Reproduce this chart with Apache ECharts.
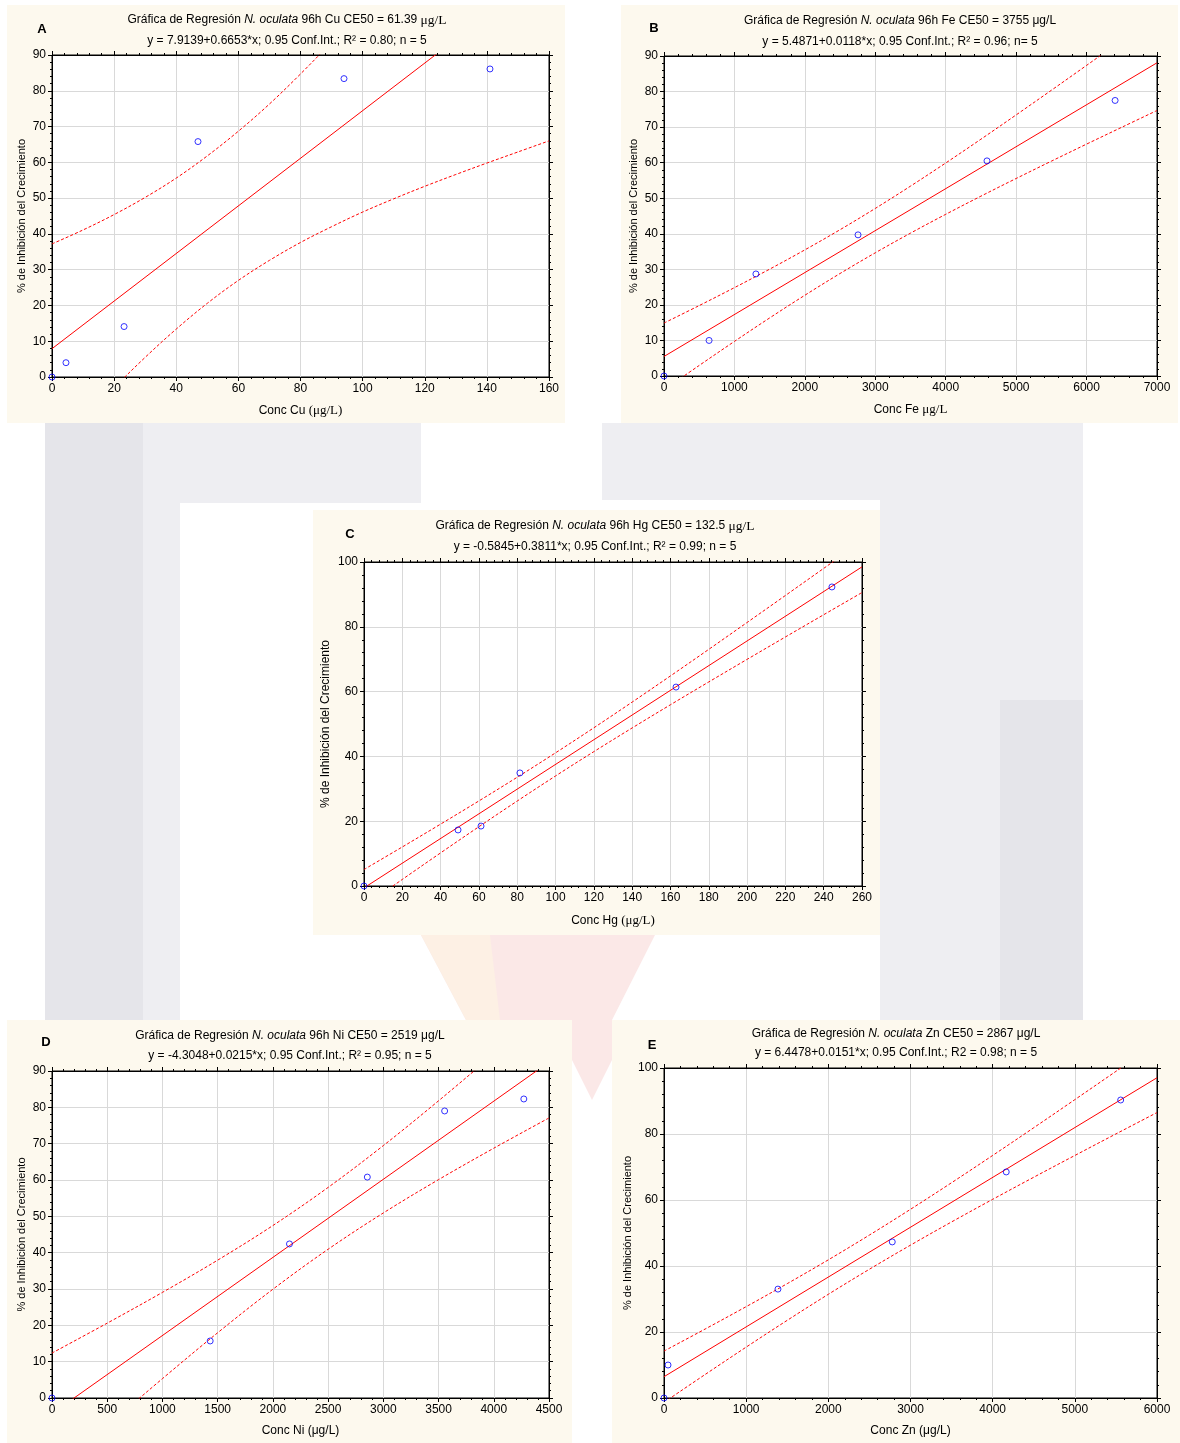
<!DOCTYPE html>
<html>
<head>
<meta charset="utf-8">
<script src="https://cdn.jsdelivr.net/npm/echarts@6/dist/echarts.min.js"></script>
<style>
html,body{margin:0;padding:0;background:#fff;}
#c{width:1180px;height:1443px;}
</style>
</head>
<body>
<div id="c"></div>
<script>
// ---------------- DATA ----------------
// Panel A – Cu
const cuConc  = [0, 4.5, 23.2, 47.0, 94.0, 141.0];
const cuInhib = [0, 4.0, 14.1, 65.8, 83.4, 86.1];
const cuFitX  = [0, 160];
const cuFitY  = [7.91, 114.36];
const cuBandX = [0, 10, 20, 30, 40, 50, 60, 70, 80, 90, 100, 110, 120, 130, 140, 150, 160];
const cuUpper = [37.2, 41.1, 45.4, 50.2, 55.6, 61.8, 68.7, 76.3, 84.7, 93.6, 102.8, 112.4, 122.2, 132.2, 142.3, 152.5, 162.8];
const cuLower = [-21.4, -12.0, -3.0, 5.5, 13.4, 20.6, 27.0, 32.6, 37.6, 42.0, 46.1, 49.8, 53.3, 56.6, 59.8, 62.9, 66.0];
const cuXAxis = [0, 160, 20];
const cuYAxis = [0, 90, 10];

// Panel B – Fe
const feConc  = [0, 640, 1305, 2755, 4586, 6405];
const feInhib = [0, 10.0, 28.7, 39.7, 60.5, 77.5];
const feFitX  = [0, 7000];
const feFitY  = [5.49, 88.09];
const feBandX = [0, 500, 1000, 1500, 2000, 2500, 3000, 3500, 4000, 4500, 5000, 5500, 6000, 6500, 7000];
const feUpper = [14.89, 19.81, 24.85, 30.05, 35.47, 41.15, 47.13, 53.40, 59.91, 66.60, 73.43, 80.36, 87.36, 94.42, 101.51];
const feLower = [-3.91, 2.97, 9.73, 16.33, 22.71, 28.83, 34.65, 40.18, 45.47, 50.58, 55.55, 60.42, 65.22, 69.96, 74.67];
const feXAxis = [0, 7000, 1000];
const feYAxis = [0, 90, 10];

// Panel C – Hg
const hgConc  = [0, 49.1, 61.1, 81.4, 162.9, 244.3];
const hgInhib = [0, 17.3, 18.5, 34.9, 61.4, 92.3];
const hgFitX  = [0, 260];
const hgFitY  = [-0.58, 98.50];
const hgBandX = [0, 20, 40, 60, 80, 100, 120, 140, 160, 180, 200, 220, 240, 260];
const hgUpper = [5.09, 12.05, 19.10, 26.26, 33.57, 41.10, 48.83, 56.76, 64.84, 73.04, 81.33, 89.66, 98.03, 106.43];
const hgLower = [-6.25, 2.03, 10.22, 18.30, 26.23, 33.96, 41.47, 48.78, 55.94, 62.98, 69.95, 76.86, 83.73, 90.57];
const hgXAxis = [0, 260, 20];
const hgYAxis = [0, 100, 20];

// Panel D – Ni
const niConc  = [0, 1432, 2150, 2855, 3555, 4272];
const niInhib = [0, 15.7, 42.4, 60.8, 79.0, 82.3];
const niFitX  = [0, 4500];
const niFitY  = [-4.30, 92.45];
const niBandX = [0, 500, 1000, 1500, 2000, 2500, 3000, 3500, 4000, 4500];
const niUpper = [12.37, 20.60, 29.07, 37.94, 47.47, 57.96, 69.47, 81.80, 94.65, 107.82];
const niLower = [-20.97, -7.70, 5.33, 17.96, 29.93, 40.94, 50.93, 60.10, 68.75, 77.08];
const niXAxis = [0, 4500, 500];
const niYAxis = [0, 90, 10];

// Panel E – Zn
const znConc  = [0, 49, 1387, 2778, 4165, 5558];
const znInhib = [0, 10.0, 33.0, 47.3, 68.5, 90.3];
const znFitX  = [0, 6000];
const znFitY  = [6.45, 97.05];
const znBandX = [0, 500, 1000, 1500, 2000, 2500, 3000, 3500, 4000, 4500, 5000, 5500, 6000];
const znUpper = [14.22, 20.89, 27.68, 34.66, 41.87, 49.38, 57.18, 65.24, 73.50, 81.90, 90.41, 98.98, 107.60];
const znLower = [-1.32, 7.11, 15.42, 23.54, 31.43, 39.02, 46.32, 53.36, 60.20, 66.90, 73.49, 80.02, 86.50];
const znXAxis = [0, 6000, 1000];
const znYAxis = [0, 100, 20];

const yAxisTitle = '% de Inhibición del Crecimiento';

// ---------------- LAYOUT / STYLE ----------------
const SANS = 'Liberation Sans, Arial, Helvetica, sans-serif';
const SERIF = 'Liberation Serif, Times New Roman, serif';

const panels = [
  { letter:'A', bg:[7,5,558,418], grid:{left:52, top:55, width:497, height:322},
    xr:cuXAxis, yr:cuYAxis, conc:cuConc, inhib:cuInhib, fitX:cuFitX, fitY:cuFitY, bandX:cuBandX, up:cuUpper, lo:cuLower,
    title:'{a|Gráfica de Regresión }{i|N. oculata}{a| 96h Cu CE50 = 61.39 }{s|μg/L}',
    sub:'y = 7.9139+0.6653*x; 0.95 Conf.Int.; R² = 0.80; n = 5',
    xName:'{a|Conc Cu }{s|(μg/L)}', tc:287, ty:[20,41], lp:[42,29], yNameSize:11, yGap:25, xGap:27 },
  { letter:'B', bg:[621,5,557,418], grid:{left:664, top:56, width:493, height:320},
    xr:feXAxis, yr:feYAxis, conc:feConc, inhib:feInhib, fitX:feFitX, fitY:feFitY, bandX:feBandX, up:feUpper, lo:feLower,
    title:'{a|Gráfica de Regresión }{i|N. oculata}{a| 96h Fe CE50 = 3755 μg/L}',
    sub:'y = 5.4871+0.0118*x; 0.95 Conf.Int.; R² = 0.96; n= 5',
    xName:'{a|Conc Fe }{s|μg/L}', tc:900, ty:[21,42], lp:[654,28], yNameSize:11, yGap:25, xGap:27 },
  { letter:'C', bg:[313,510,567,425], grid:{left:364, top:562, width:498, height:324},
    xr:hgXAxis, yr:hgYAxis, conc:hgConc, inhib:hgInhib, fitX:hgFitX, fitY:hgFitY, bandX:hgBandX, up:hgUpper, lo:hgLower,
    title:'{a|Gráfica de Regresión }{i|N. oculata}{a| 96h Hg CE50 = 132.5 }{s|μg/L}',
    sub:'y = -0.5845+0.3811*x; 0.95 Conf.Int.; R² = 0.99; n = 5',
    xName:'{a|Conc Hg }{s|(μg/L)}', tc:595, ty:[526,547], lp:[350,534], yNameSize:12, yGap:32, xGap:28 },
  { letter:'D', bg:[7,1020,565,423], grid:{left:52, top:1071, width:497, height:327},
    xr:niXAxis, yr:niYAxis, conc:niConc, inhib:niInhib, fitX:niFitX, fitY:niFitY, bandX:niBandX, up:niUpper, lo:niLower,
    title:'{a|Gráfica de Regresión }{i|N. oculata}{a| 96h Ni CE50 = 2519 μg/L}',
    sub:'y = -4.3048+0.0215*x; 0.95 Conf.Int.; R² = 0.95; n = 5',
    xName:'{a|Conc Ni (μg/L)}', tc:290, ty:[1036,1056], lp:[46,1042], yNameSize:11, yGap:25, xGap:27 },
  { letter:'E', bg:[612,1020,568,423], grid:{left:664, top:1068, width:493, height:330},
    xr:znXAxis, yr:znYAxis, conc:znConc, inhib:znInhib, fitX:znFitX, fitY:znFitY, bandX:znBandX, up:znUpper, lo:znLower,
    title:'{a|Gráfica de Regresión }{i|N. oculata}{a| Zn CE50 = 2867 μg/L}',
    sub:'y = 6.4478+0.0151*x; 0.95 Conf.Int.; R2 = 0.98; n = 5',
    xName:'{a|Conc Zn (μg/L)}', tc:896, ty:[1034,1053], lp:[652,1045], yNameSize:11, yGap:31, xGap:27 }
];

const richTitle = {
  a:{fontFamily:SANS, fontSize:12, color:'#000'},
  i:{fontFamily:SANS, fontSize:12, fontStyle:'italic', color:'#000'},
  s:{fontFamily:SERIF, fontSize:13.5, color:'#000'}
};

function axis(gi, r, pos, main, extra) {
  return Object.assign({
    type:'value', gridIndex:gi, min:r[0], max:r[1], interval:r[2], position:pos,
    axisLine:{show:true, onZero:false, lineStyle:{color:'#000', width:1}},
    axisTick:{show:true, inside:false, length:4, lineStyle:{color:'#000', width:1}},
    minorTick:{show:true, splitNumber:5, length:2, lineStyle:{color:'#000', width:1}},
    axisLabel:{show:main, color:'#000', fontFamily:SANS, fontSize:12, margin:6, formatter:v => String(v)},
    splitLine:{show:main, lineStyle:{color:'#d9d9d9', width:1}},
    minorSplitLine:{show:false}
  }, extra || {});
}

const grids = [], xAxes = [], yAxes = [], series = [];
const graphics = [];

// faint watermark in the page background
const wmGrey = '#e5e5ea', wmLight = '#eeeef2';
[
  {type:'rect', shape:{x:45, y:423, width:98, height:597}, fill:wmGrey},
  {type:'rect', shape:{x:143, y:423, width:37, height:597}, fill:wmLight},
  {type:'rect', shape:{x:180, y:423, width:241, height:80}, fill:wmLight},
  {type:'rect', shape:{x:602, y:423, width:481, height:77}, fill:wmLight},
  {type:'rect', shape:{x:880, y:500, width:203, height:520}, fill:wmLight},
  {type:'rect', shape:{x:1000, y:700, width:83, height:320}, fill:wmGrey},
  {type:'polygon', shape:{points:[[421,935],[655,935],[612,1020],[612,1060],[592,1100],[572,1060],[572,1020],[466,1020]]}, fill:'#fbe8e7'},
  {type:'polygon', shape:{points:[[421,935],[490,935],[500,1020],[466,1020]]}, fill:'#fdf0e4'}
].forEach(w => graphics.push({type:w.type, shape:w.shape, style:{fill:w.fill}, z:-20, silent:true}));

panels.forEach((p, i) => {
  grids.push(Object.assign({show:true, backgroundColor:'#fff', borderColor:'#000', borderWidth:1, containLabel:false}, p.grid));
  xAxes.push(axis(i, p.xr, 'bottom', true, {
    name:p.xName, nameLocation:'middle', nameGap:p.xGap,
    nameTextStyle:{color:'#000', rich:{a:{fontFamily:SANS, fontSize:12, color:'#000'}, s:{fontFamily:SERIF, fontSize:13, color:'#000'}}}
  }));
  xAxes.push(axis(i, p.xr, 'top', false));
  yAxes.push(axis(i, p.yr, 'left', true, {
    name:yAxisTitle, nameLocation:'middle', nameGap:p.yGap, nameRotate:90,
    nameTextStyle:{color:'#000', fontFamily:SANS, fontSize:p.yNameSize}
  }));
  yAxes.push(axis(i, p.yr, 'right', false));

  const xi = 2*i, yi = 2*i;
  series.push({type:'line', xAxisIndex:xi, yAxisIndex:yi, data:p.fitX.map((x,k)=>[x,p.fitY[k]]),
    symbol:'none', clip:true, silent:true, lineStyle:{color:'#ff0000', width:1}, z:3});
  series.push({type:'line', xAxisIndex:xi, yAxisIndex:yi, data:p.bandX.map((x,k)=>[x,p.up[k]]),
    symbol:'none', smooth:0.35, clip:true, silent:true, lineStyle:{color:'#ff0000', width:1, type:[3,2]}, z:3});
  series.push({type:'line', xAxisIndex:xi, yAxisIndex:yi, data:p.bandX.map((x,k)=>[x,p.lo[k]]),
    symbol:'none', smooth:0.35, clip:true, silent:true, lineStyle:{color:'#ff0000', width:1, type:[3,2]}, z:3});
  series.push({type:'scatter', xAxisIndex:xi, yAxisIndex:yi, data:p.conc.map((x,k)=>[x,p.inhib[k]]),
    symbol:'circle', symbolSize:6, itemStyle:{color:'rgba(255,255,255,0)', borderColor:'#0000ff', borderWidth:1}, z:4});

  // cream panel background
  graphics.push({type:'rect', shape:{x:p.bg[0], y:p.bg[1], width:p.bg[2], height:p.bg[3]},
    style:{fill:'#fdf9ee'}, z:-10, silent:true});
  // titles
  graphics.push({type:'text', x:p.tc, y:p.ty[0], z:5, silent:true,
    style:{text:p.title, align:'center', verticalAlign:'middle', rich:richTitle, fill:'#000', fontFamily:SANS, fontSize:12}});
  graphics.push({type:'text', x:p.tc, y:p.ty[1], z:5, silent:true,
    style:{text:p.sub, align:'center', verticalAlign:'middle', fill:'#000', fontFamily:SANS, fontSize:12}});
  // panel letter
  graphics.push({type:'text', x:p.lp[0], y:p.lp[1], z:5, silent:true,
    style:{text:p.letter, align:'center', verticalAlign:'middle', fill:'#000', fontFamily:SANS, fontSize:13, fontWeight:'bold'}});
});

const chart = echarts.init(document.getElementById('c'), null, {renderer:'canvas'});
chart.setOption({
  backgroundColor:'#ffffff',
  animation:false,
  grid:grids,
  xAxis:xAxes,
  yAxis:yAxes,
  series:series,
  graphic:{elements:graphics}
});
</script>
</body>
</html>
